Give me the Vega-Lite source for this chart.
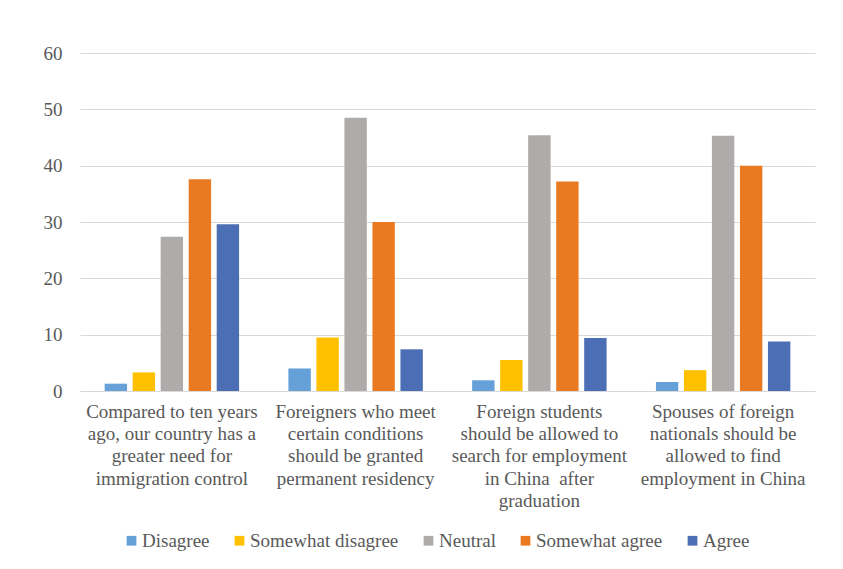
{
  "$schema": "https://vega.github.io/schema/vega-lite/v6.json",
  "width": 735,
  "height": 338,
  "autosize": {"type": "none"},
  "padding": {"left": 80, "top": 53, "right": 28, "bottom": 178},
  "background": "white",
  "data": {
    "values": [
      {"statement": "Compared to ten years|ago, our country has a|greater need for|immigration control", "response": "Disagree", "percent": 1.3},
      {"statement": "Compared to ten years|ago, our country has a|greater need for|immigration control", "response": "Somewhat disagree", "percent": 3.3},
      {"statement": "Compared to ten years|ago, our country has a|greater need for|immigration control", "response": "Neutral", "percent": 27.4},
      {"statement": "Compared to ten years|ago, our country has a|greater need for|immigration control", "response": "Somewhat agree", "percent": 37.6},
      {"statement": "Compared to ten years|ago, our country has a|greater need for|immigration control", "response": "Agree", "percent": 29.6},
      {"statement": "Foreigners who meet|certain conditions|should be granted|permanent residency", "response": "Disagree", "percent": 4.0},
      {"statement": "Foreigners who meet|certain conditions|should be granted|permanent residency", "response": "Somewhat disagree", "percent": 9.5},
      {"statement": "Foreigners who meet|certain conditions|should be granted|permanent residency", "response": "Neutral", "percent": 48.5},
      {"statement": "Foreigners who meet|certain conditions|should be granted|permanent residency", "response": "Somewhat agree", "percent": 30.0},
      {"statement": "Foreigners who meet|certain conditions|should be granted|permanent residency", "response": "Agree", "percent": 7.4},
      {"statement": "Foreign students|should be allowed to|search for employment|in China \u00a0after|graduation", "response": "Disagree", "percent": 1.9},
      {"statement": "Foreign students|should be allowed to|search for employment|in China \u00a0after|graduation", "response": "Somewhat disagree", "percent": 5.5},
      {"statement": "Foreign students|should be allowed to|search for employment|in China \u00a0after|graduation", "response": "Neutral", "percent": 45.4},
      {"statement": "Foreign students|should be allowed to|search for employment|in China \u00a0after|graduation", "response": "Somewhat agree", "percent": 37.2},
      {"statement": "Foreign students|should be allowed to|search for employment|in China \u00a0after|graduation", "response": "Agree", "percent": 9.4},
      {"statement": "Spouses of foreign|nationals should be|allowed to find|employment in China", "response": "Disagree", "percent": 1.6},
      {"statement": "Spouses of foreign|nationals should be|allowed to find|employment in China", "response": "Somewhat disagree", "percent": 3.7},
      {"statement": "Spouses of foreign|nationals should be|allowed to find|employment in China", "response": "Neutral", "percent": 45.3},
      {"statement": "Spouses of foreign|nationals should be|allowed to find|employment in China", "response": "Somewhat agree", "percent": 40.0},
      {"statement": "Spouses of foreign|nationals should be|allowed to find|employment in China", "response": "Agree", "percent": 8.8}
    ]
  },
  "mark": {"type": "bar"},
  "encoding": {
    "x": {
      "field": "statement",
      "type": "nominal",
      "sort": null,
      "scale": {"paddingInner": 0, "paddingOuter": 0},
      "axis": {
        "title": null,
        "labelAngle": 0,
        "labelExpr": "split(datum.label, '|')",
        "labelFont": "Liberation Serif",
        "labelFontSize": 19,
        "labelLineHeight": 22.4,
        "labelColor": "#595959",
        "labelLimit": 0,
        "labelPadding": 11,
        "labelBaseline": "top",
        "domain": true,
        "domainColor": "#d9d9d9",
        "domainWidth": 1,
        "ticks": false,
        "grid": false
      }
    },
    "xOffset": {
      "field": "response",
      "type": "nominal",
      "scale": {
        "domain": ["Disagree", "Somewhat disagree", "Neutral", "Somewhat agree", "Agree"],
        "paddingInner": 0.2,
        "paddingOuter": 0.88
      }
    },
    "y": {
      "field": "percent",
      "type": "quantitative",
      "scale": {"domain": [0, 60], "nice": false},
      "axis": {
        "title": null,
        "values": [0, 10, 20, 30, 40, 50, 60],
        "labelFont": "Liberation Serif",
        "labelFontSize": 19,
        "labelColor": "#595959",
        "labelPadding": 18,
        "domain": false,
        "ticks": false,
        "grid": true,
        "gridColor": "#d9d9d9",
        "gridWidth": 1
      }
    },
    "color": {
      "field": "response",
      "type": "nominal",
      "scale": {
        "domain": ["Disagree", "Somewhat disagree", "Neutral", "Somewhat agree", "Agree"],
        "range": ["#65A0D8", "#FFC000", "#AFABAB", "#EA7A22", "#4C6EB5"]
      },
      "legend": {
        "title": null,
        "orient": "none",
        "direction": "horizontal",
        "legendX": 42,
        "legendY": 478,
        "symbolType": "square",
        "symbolSize": 95,
        "symbolStrokeWidth": 0,
        "labelFont": "Liberation Serif",
        "labelFontSize": 19,
        "labelColor": "#595959",
        "labelOffset": 1,
        "columnPadding": 20
      }
    }
  },
  "config": {
    "view": {"stroke": null},
    "font": "Liberation Serif"
  }
}
